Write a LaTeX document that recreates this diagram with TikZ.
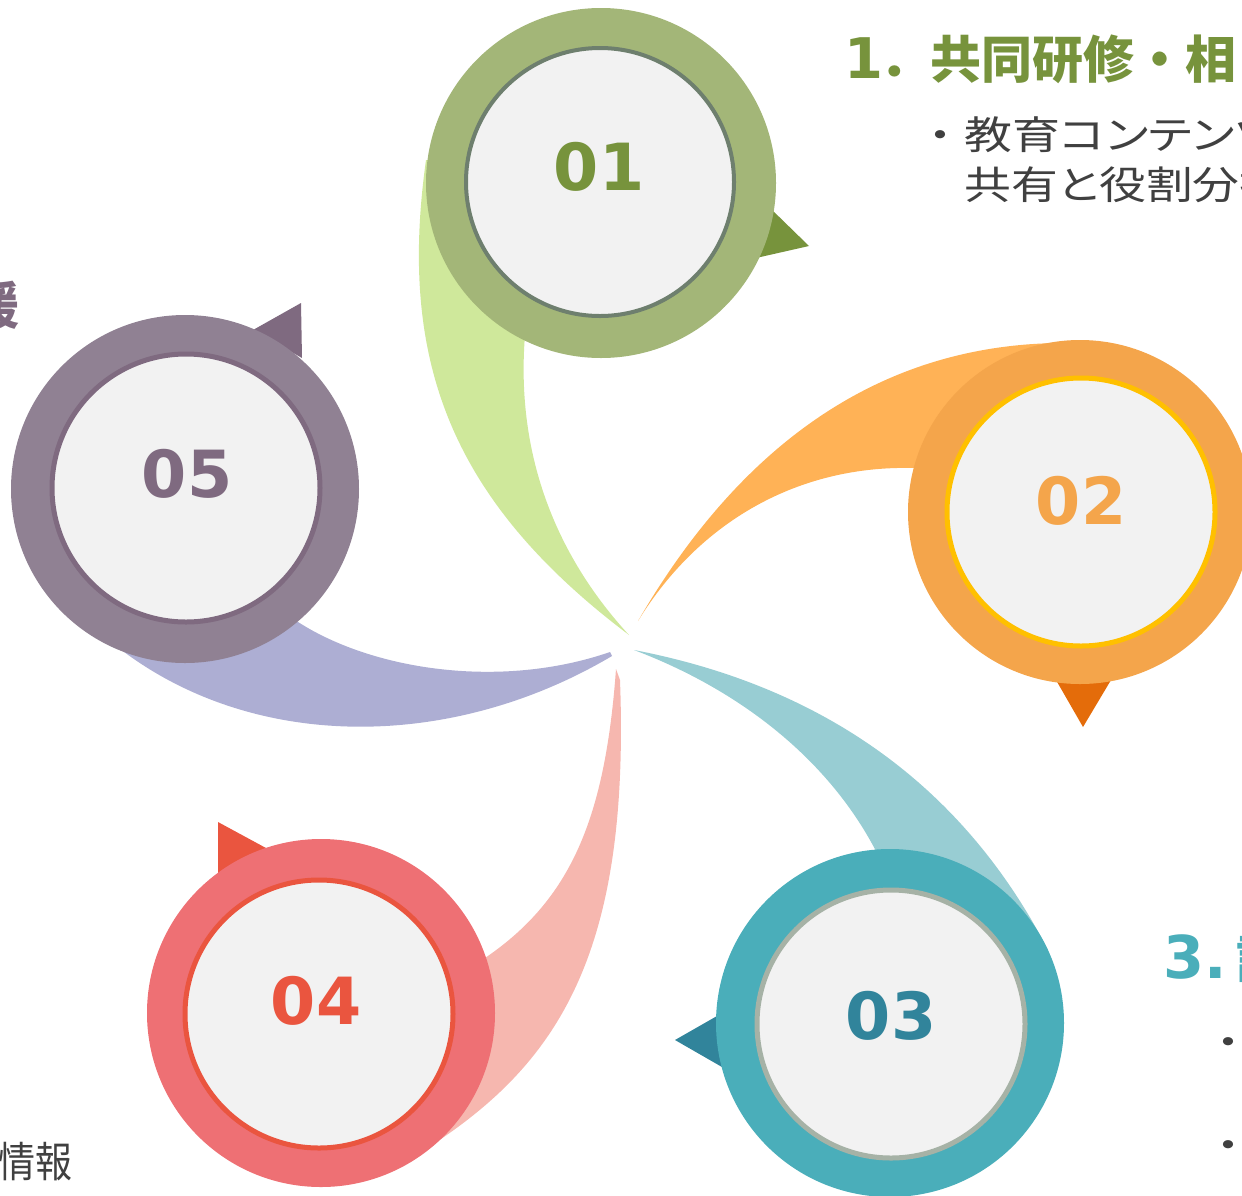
\documentclass[tikz,border=0pt]{standalone}
\usepackage{fontspec}
\newfontfamily\jpfont{Noto Sans CJK JP}
\newfontfamily\numfont{DejaVu Sans}
\definecolor{discfill}{HTML}{F2F2F2}
\definecolor{bodygray}{HTML}{404040}
% 01 green
\definecolor{gRing}{HTML}{A3B678}
\definecolor{gDark}{HTML}{77933C}
\definecolor{gLine}{HTML}{6E7F6E}
\definecolor{gSw}{HTML}{CFE89B}
% 02 orange
\definecolor{oRing}{HTML}{F4A54B}
\definecolor{oDark}{HTML}{E46C0A}
\definecolor{oLine}{HTML}{FFC000}
\definecolor{oSw}{HTML}{FFB256}
% 03 teal
\definecolor{tRing}{HTML}{4AAEBA}
\definecolor{tDark}{HTML}{31849B}
\definecolor{tLine}{HTML}{A6B2A6}
\definecolor{tSw}{HTML}{98CDD3}
% 04 red
\definecolor{rRing}{HTML}{EE7074}
\definecolor{rDark}{HTML}{EA553F}
\definecolor{rSw}{HTML}{F6B7AF}
% 05 purple
\definecolor{pRing}{HTML}{908193}
\definecolor{pDark}{HTML}{7F6A80}
\definecolor{pSw}{HTML}{ADAED3}
\begin{document}
\begin{tikzpicture}[x=0.5pt,y=-0.5pt,
  outerring/.style={circle,inner sep=0pt,minimum size=175pt},
  innerdisc/.style={circle,inner sep=0pt,minimum size=134pt,fill=discfill,line width=2.5pt},
  numtext/.style={font=\numfont\bfseries\fontsize{32.5pt}{36pt}\selectfont,inner sep=0pt},
  headtext/.style={font=\jpfont\bfseries\fontsize{25.5pt}{28pt}\selectfont,inner sep=0pt},
  bodytext/.style={font=\jpfont\fontsize{19.5pt}{24pt}\selectfont,inner sep=0pt,text=bodygray},
  swoosh/.style={draw=none},
  pointer/.style={draw=none},
]
\useasboundingbox (0,0) rectangle (1242,1195);
\clip (0,0) rectangle (1242,1195);

% swooshes
\fill[swoosh,gSw] (426,160) .. controls (398,360) and (450,500) .. (629,635)
  .. controls (560,560) and (515,460) .. (525,335) -- (601,183) -- cycle;
\fill[swoosh,oSw] (638,621) .. controls (720,480) and (850,345) .. (1060,343)
  -- (1080,512) -- (914,468) .. controls (800,465) and (700,520) .. (638,621) -- cycle;
\fill[swoosh,tSw] (634,650) .. controls (790,680) and (950,760) .. (1048,950)
  -- (890,1023) -- (878,855) .. controls (830,760) and (740,690) .. (634,650) -- cycle;
\fill[swoosh,rSw] (616,669) .. controls (605,820) and (570,900) .. (485,958)
  -- (321,1013) -- (435,1143) .. controls (560,1060) and (630,950) .. (620,680) -- cycle;
\fill[swoosh,pSw] (610,652) .. controls (500,690) and (370,670) .. (295,620)
  -- (185,489) -- (115,645) .. controls (250,752) and (450,752) .. (612,656) -- cycle;

% pointers
\fill[pointer,gDark] (769,207) -- (809,246) -- (756,258) -- cycle;
\fill[pointer,oDark] (1056,680) -- (1111,680) -- (1083,727) -- cycle;
\fill[pointer,tDark] (675,1040) -- (717,1016) -- (722,1067) -- cycle;
\fill[pointer,rDark] (218,822) -- (266,848) -- (218,876) -- cycle;
\fill[pointer,pDark] (253,330) -- (301,303) -- (302,358) -- cycle;

% rings
\node[outerring,fill=gRing] (ring1) at (601,183) {};
\node[outerring,fill=oRing,minimum size=172pt] (ring2) at (1080,512) {};
\node[outerring,fill=tRing,minimum size=174pt] (ring3) at (890,1023) {};
\node[outerring,fill=rRing,minimum size=174pt] (ring4) at (321,1013) {};
\node[outerring,fill=pRing,minimum size=174pt] (ring5) at (185,489) {};

\node[innerdisc,draw=gLine,line width=2pt] (disc1) at (600,182) {};
\node[innerdisc,draw=oLine] (disc2) at (1081,512) {};
\node[innerdisc,draw=tLine] (disc3) at (891,1024) {};
\node[innerdisc,draw=rDark] (disc4) at (319,1014) {};
\node[innerdisc,draw=pDark] (disc5) at (186,488) {};

% numbers
\node[numtext,text=gDark] (num1) at (599,167) {01};
\node[numtext,text=oRing] (num2) at (1081,501) {02};
\node[numtext,text=tDark] (num3) at (891,1016) {03};
\node[numtext,text=rDark] (num4) at (316,1001) {04};
\node[numtext,text=pDark] (num5) at (187,474) {05};

% texts
\node[headtext,text=gDark,anchor=base west] (head1) at (844,78)
  {{\numfont\bfseries\fontsize{28pt}{30pt}\selectfont 1}\hspace{-2pt}．共同研修・相};
\node[bodytext,anchor=base west] (body1a) at (916,149)
  {\scalebox{1.23}[1]{・教育{\addfontfeatures{RawFeature=+palt}コンテンツ}}};
\node[bodytext,anchor=base west] (body1b) at (964,199)
  {\scalebox{1.2}[1]{\addfontfeatures{RawFeature=+palt}共有と役割分担}};
\node[headtext,text=pDark,anchor=base east] (head5) at (20,324)
  {\scalebox{0.9}[1]{援}};
\node[text=tRing,anchor=base west,inner sep=0pt] (head3) at (1163,978)
  {{\numfont\bfseries\fontsize{29.5pt}{32pt}\selectfont 3.}\hspace{5pt}{\jpfont\bfseries\fontsize{25.5pt}{28pt}\selectfont 評}};
\node[bodytext] (dot3a) at (1228,1047) {\scalebox{1.23}[1]{・}};
\node[bodytext] (dot3b) at (1228,1150) {\scalebox{1.23}[1]{・}};
\node[bodytext,anchor=base east,font=\jpfont\fontsize{21pt}{24pt}\selectfont] (foot4) at (73,1177)
  {\scalebox{0.88}[1]{情報}};
\end{tikzpicture}
\end{document}
